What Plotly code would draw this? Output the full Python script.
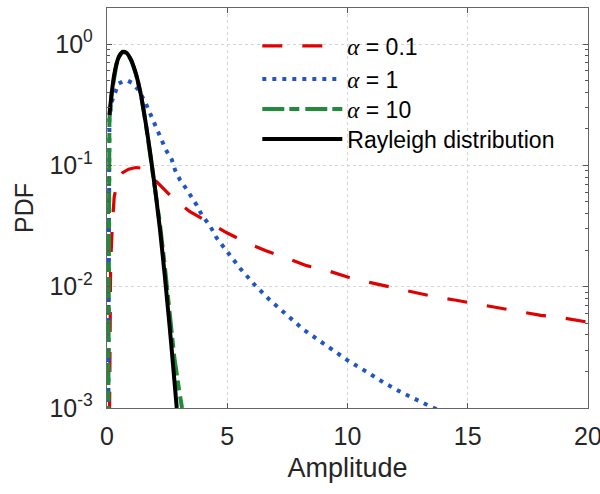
import plotly.graph_objects as go

# ---- data ----
red_x = [0.0, 0.15, 0.22, 0.3, 0.45, 0.65, 0.9, 1.2, 1.4, 1.7, 2.07, 2.69, 3.45, 4.28, 4.98, 5.81,
         6.61, 7.49, 8.3, 9.25, 10.07, 10.96, 11.79, 12.73, 13.56, 14.46, 15.37, 16.26, 17.14,
         18.04, 18.92, 20.0]
red_y = [1e-6, 0.015, 0.032, 0.055, 0.075, 0.087, 0.093, 0.096, 0.095, 0.087, 0.073, 0.055, 0.0415,
         0.0333, 0.0278, 0.023, 0.0198, 0.0171, 0.0149, 0.0134, 0.0119, 0.0108, 0.0099, 0.0091,
         0.0083, 0.00776, 0.0072, 0.0067, 0.0062, 0.0058, 0.00554, 0.0051]

blue_x = [0.0, 0.1, 0.2, 0.33, 0.47, 0.65, 0.85, 1.03, 1.3, 1.58, 1.76, 1.93, 2.09, 2.27, 2.45,
          2.69, 2.83, 3.03, 3.31, 3.73, 3.94, 4.28, 4.56, 4.97, 5.53, 6.15, 6.77, 8.16, 9.27,
          10.03, 10.79, 11.55, 12.32, 13.15, 13.54, 15.0]
blue_y = [1e-6, 0.25, 0.335, 0.40, 0.47, 0.49, 0.50, 0.48, 0.42, 0.335, 0.28, 0.233, 0.195,
          0.162, 0.134, 0.112, 0.0915, 0.0762, 0.0635, 0.047, 0.039, 0.0318, 0.0252, 0.0196,
          0.0142, 0.0103, 0.00776, 0.00445, 0.0031, 0.00245, 0.00199, 0.0016, 0.00132, 0.00109,
          0.00101, 0.00075]

green_x = [0.0, 0.1, 0.2, 0.3, 0.4, 0.5, 0.65, 0.8, 1.0, 1.2, 1.4, 1.6, 1.8, 2.0, 2.2, 2.4,
           2.6, 2.8, 3.0, 3.12]
green_y = [1e-6, 0.24, 0.40, 0.56, 0.69, 0.79, 0.86, 0.85, 0.74, 0.57, 0.39, 0.23, 0.125,
           0.066, 0.033, 0.015, 0.0062, 0.0026, 0.0014, 0.001]

ray_x = [0.1, 0.2, 0.3, 0.4, 0.5, 0.65, 0.8, 1.0, 1.2, 1.4, 1.6, 1.8, 2.0, 2.2, 2.4, 2.6,
         2.8, 2.9]
ray_y = [0.26, 0.40, 0.56, 0.69, 0.79, 0.86, 0.85, 0.74, 0.57, 0.39, 0.23, 0.125, 0.064,
         0.030, 0.0125, 0.0048, 0.0017, 0.0010]

ALPHA = '<span style="font-family:Liberation Serif, serif"><i>α</i></span>'
names = [ALPHA + ' = 0.1', ALPHA + ' = 1', ALPHA + ' = 10', 'Rayleigh distribution']
x_ticks = [0, 5, 10, 15, 20]
y_ticks = [1e-3, 1e-2, 1e-1, 1]
y_ticktext = ['10<sup>-3</sup>', '10<sup>-2</sup>', '10<sup>-1</sup>', '10<sup>0</sup>']

FONT = 'Liberation Sans, Arial, sans-serif'
TXT = '#262626'

fig = go.Figure()
fig.add_trace(go.Scatter(x=red_x, y=red_y, mode='lines', name=names[0], legend='legend',
                         line=dict(color='#e00000', width=3.2, dash='20px,20px')))
fig.add_trace(go.Scatter(x=blue_x, y=blue_y, mode='lines', name=names[1], legend='legend2',
                         line=dict(color='#2255c4', width=4, dash='4px,6px')))
fig.add_trace(go.Scatter(x=green_x, y=green_y, mode='lines', name=names[2], legend='legend3',
                         line=dict(color='#228b3a', width=4, dash='22px,5px,10px,6px')))
fig.add_trace(go.Scatter(x=ray_x, y=ray_y, mode='lines', name=names[3], legend='legend4',
                         line=dict(color='black', width=4, shape='spline')))

minor_vals = [k * 10 ** e for e in range(-3, 1) for k in range(2, 10)]


def leg(yc):
    return dict(x=0.3125, y=yc, xanchor='left', yanchor='middle',
                bgcolor='rgba(0,0,0,0)', borderwidth=0,
                font=dict(family=FONT, size=23, color='black'),
                itemwidth=80, tracegroupgap=0)


fig.update_layout(
    width=600, height=494,
    margin=dict(l=107, r=12, t=8, b=86),
    paper_bgcolor='white', plot_bgcolor='white',
    font=dict(family=FONT, size=22, color=TXT),
    showlegend=True,
    legend=leg(0.905), legend2=leg(0.8225), legend3=leg(0.7475), legend4=leg(0.6725),
)
fig.update_xaxes(range=[0, 20], tickvals=x_ticks, ticks='inside', ticklen=5,
                 tickcolor='#555', showline=True, linecolor='#666', linewidth=1.3,
                 mirror='ticks', showgrid=True, gridcolor='#d4d4d4', griddash='dot',
                 gridwidth=1, zeroline=False, automargin=False,
                 ticklabeloverflow='allow', ticklabelstandoff=6,
                 tickfont=dict(size=25),
                 title=dict(text='Amplitude', font=dict(size=27), standoff=8))
fig.update_yaxes(type='log', range=[-3, 0.297], tickvals=y_ticks, ticktext=y_ticktext,
                 ticks='inside', ticklen=5, tickcolor='#555',
                 minor=dict(tickvals=minor_vals, ticks='inside', ticklen=3, tickcolor='#555',
                            showgrid=False),
                 showline=True, linecolor='#666', linewidth=1.3, mirror='ticks',
                 showgrid=True, gridcolor='#d4d4d4', griddash='dot', gridwidth=1,
                 zeroline=False, automargin=False, ticklabeloverflow='allow',
                 ticklabelstandoff=8, tickfont=dict(size=25),
                 title=dict(text='PDF', font=dict(size=25), standoff=8))

# remove the default 8px page margin so the 600x494 figure fills the window
fig.write_html('out.html', config={'displayModeBar': False},
               post_script="document.body.style.margin='0px';")
